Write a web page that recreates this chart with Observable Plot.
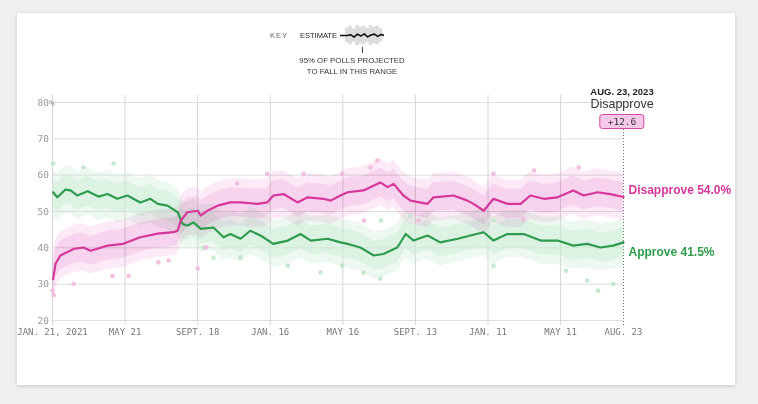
<!DOCTYPE html>
<html>
<head>
<meta charset="utf-8">
<script src="https://cdn.jsdelivr.net/npm/d3@7"></script>
<script src="https://cdn.jsdelivr.net/npm/@observablehq/plot@0.6"></script>
<style>
  html, body { margin: 0; padding: 0; }
  body { width: 758px; height: 404px; background: #efefef; position: relative; overflow: hidden; font-family: "Liberation Sans", Arial, sans-serif; }
  #card { position: absolute; left: 17px; top: 13px; width: 718px; height: 372px; background: #fff; box-shadow: 0 1px 4px rgba(0,0,0,0.18); }
  #chart { position: absolute; left: 0; top: 0; }
  #key { position: absolute; left: 0; top: 0; width: 758px; height: 90px; }
  .k { position: absolute; color: #444; font-size: 7.5px; white-space: nowrap; }
  #ann { position: absolute; left: 622px; top: 86px; transform: translateX(-50%); text-align: center; }
  #ann .d { font-weight: bold; font-size: 9.5px; color: #222; line-height: 11px; }
  #ann .l { font-size: 12.5px; color: #333; line-height: 14px; }
  #ann .b { display: inline-block; margin-top: 2px; padding: 0 7px; height: 13px; line-height: 13px; border: 1px solid #d64aa3; border-radius: 3px; background: #f6c9ea; font-family: "DejaVu Sans Mono", monospace; font-size: 9.5px; color: #333; }
</style>
</head>
<body>
<div id="card"></div>
<div id="chart"></div>
<div id="key">
  <div class="k" style="left:270px; top:31px; letter-spacing:1px; color:#666;">KEY</div>
  <div class="k" style="left:300px; top:31px; color:#222;">ESTIMATE</div>
  <div id="keyplot" style="position:absolute; left:340px; top:24px;"></div>
  <div style="position:absolute; left:362px; top:47px; width:1px; height:6px; background:#444;"></div>
  <div class="k" style="left:352px; top:55px; transform:translateX(-50%); text-align:center; line-height:11px; color:#333; font-size:7.8px;">95% OF POLLS PROJECTED<br>TO FALL IN THIS RANGE</div>
</div>
<div id="ann">
  <div class="d">AUG. 23, 2023</div>
  <div class="l">Disapprove</div>
  <div class="b">+12.6</div>
</div>
<script>
// ---- data ----
const disDates = ["2021-01-22","2021-01-26","2021-02-03","2021-02-25","2021-03-13","2021-03-25","2021-04-22","2021-05-18","2021-06-15","2021-07-14","2021-08-09","2021-08-16","2021-08-21","2021-09-01","2021-09-18","2021-09-23","2021-10-04","2021-10-21","2021-11-11","2021-11-28","2021-12-26","2022-01-11","2022-01-21","2022-02-07","2022-03-02","2022-03-19","2022-04-14","2022-04-26","2022-05-12","2022-05-24","2022-06-19","2022-07-17","2022-07-29","2022-08-08","2022-08-24","2022-09-05","2022-10-03","2022-10-13","2022-11-15","2022-12-08","2022-12-18","2023-01-04","2023-01-20","2023-02-12","2023-03-06","2023-03-22","2023-04-13","2023-05-06","2023-06-01","2023-06-18","2023-07-11","2023-08-01","2023-08-23"];
const disValues = [31.4,35.6,37.9,39.7,40.1,39.2,40.6,41.1,42.9,43.9,44.3,44.8,47.5,49.8,50.2,48.9,50.2,51.6,52.5,52.5,52.1,52.5,54.4,54.8,52.5,53.9,53.5,53.0,54.4,55.3,55.8,58.0,56.7,57.6,54.4,53.0,52.1,53.9,54.4,53.0,52.1,50.2,53.5,52.1,52.1,54.4,53.5,53.9,55.8,54.4,55.3,54.8,54.0];

const appDates = ["2021-01-22","2021-01-29","2021-02-11","2021-02-20","2021-03-03","2021-03-20","2021-04-07","2021-04-22","2021-05-08","2021-05-25","2021-06-15","2021-07-02","2021-07-14","2021-07-30","2021-08-16","2021-08-24","2021-09-01","2021-09-11","2021-09-23","2021-10-14","2021-10-31","2021-11-11","2021-11-28","2021-12-14","2021-12-31","2022-01-21","2022-02-14","2022-03-07","2022-03-24","2022-04-21","2022-05-12","2022-05-24","2022-06-14","2022-07-06","2022-07-22","2022-08-14","2022-08-28","2022-09-10","2022-10-03","2022-10-24","2022-11-22","2022-12-13","2023-01-04","2023-01-20","2023-02-12","2023-03-11","2023-04-08","2023-05-06","2023-06-01","2023-06-24","2023-07-16","2023-08-06","2023-08-23"];
const appValues = [55.3,53.9,56.0,55.8,54.4,55.6,54.1,54.8,53.5,54.4,52.5,53.5,52.1,51.6,49.8,46.6,46.1,47.0,45.2,45.6,42.9,43.8,42.5,44.7,43.4,41.1,42.0,43.8,42.0,42.5,41.5,41.1,40.1,37.9,38.3,40.1,43.8,42.0,43.4,41.5,42.5,43.4,44.3,42.0,43.8,43.8,42.0,42.0,40.6,41.1,40.1,40.6,41.5];

// scattered polls outside the dense band
const disPollDates = ["2021-01-21","2021-01-23","2021-02-25","2021-04-30","2021-05-27","2021-07-15","2021-08-01","2021-09-18","2021-10-02","2021-11-22","2022-01-11","2022-03-12","2022-05-15","2022-07-01","2022-07-12","2022-06-20","2022-09-18","2023-01-20","2023-03-10","2023-03-28","2023-06-10"];
const disPollValues = [28.2,27.0,30.1,32.3,32.3,36.0,36.5,34.3,40.1,57.7,60.4,60.4,60.4,62.1,64.0,47.5,47.5,60.4,48.0,61.3,62.1];
const appPollDates = ["2021-01-22","2021-03-13","2021-05-02","2021-09-28","2021-10-14","2021-11-28","2022-02-14","2022-04-09","2022-05-15","2022-06-19","2022-07-17","2022-07-18","2022-09-05","2023-01-20","2023-01-20","2023-05-20","2023-06-24","2023-07-12","2023-08-06"];
const appPollValues = [63.2,62.1,63.2,40.1,37.3,37.3,35.1,33.2,35.1,33.2,31.5,47.5,48.9,35.1,47.5,33.7,31.0,28.2,30.1];

const spread = 5.5; // half-width of the 95% poll range

const tickDates = ["2021-01-21","2021-05-21","2021-09-18","2022-01-16","2022-05-16","2022-09-13","2023-01-11","2023-05-11","2023-08-23"];
const tickLabels = ["JAN. 21, 2021","MAY 21","SEPT. 18","JAN. 16","MAY 16","SEPT. 13","JAN. 11","MAY 11","AUG. 23"];
const yTicks = [20,30,40,50,60,70,80];

const keyLine = [0,0,0,0.3,-0.6,0.5,-0.2,0.6,-0.5,0.2,0.5,-0.3,0.4,0];
const keyHi = [0,0,8,10,7,11,9,10,8,11,9,10,7,0];

// ---- build ----
const P = s => new Date(s + "T00:00:00Z");
const dis = disDates.map((d, i) => ({date: P(d), v: disValues[i]}));
const app = appDates.map((d, i) => ({date: P(d), v: appValues[i]}));
const disPolls = disPollDates.map((d, i) => ({date: P(d), v: disPollValues[i]}));
const appPolls = appPollDates.map((d, i) => ({date: P(d), v: appPollValues[i]}));
const ticks = tickDates.map(P);
const gridDates = ticks.slice(0, -1);
const endDate = ticks[ticks.length - 1];
const labelFor = d => { const i = ticks.findIndex(t => +t === +d); return i >= 0 ? tickLabels[i] : ""; };

const pinkBand = "#f7c6e8", greenBand = "#c9ecd3";
const pinkLine = "#d5379b", greenLine = "#2e9c4c";

const chart = Plot.plot({
  width: 758, height: 404,
  marginLeft: 52, marginRight: 135, marginTop: 102, marginBottom: 84,
  style: {background: "transparent", fontFamily: "'DejaVu Sans Mono', monospace", fontSize: "9px", color: "#777", overflow: "visible"},
  x: {type: "utc", domain: [ticks[0], endDate], ticks: ticks, tickFormat: labelFor, tickSize: 0, tickPadding: 8, label: null},
  y: {domain: [20, 80], axis: null},
  marks: [
    Plot.ruleY(yTicks, {stroke: "#ddd", strokeWidth: 1}),
    Plot.ruleX(gridDates, {y1: 18.6, y2: 82, stroke: "#d6d6d6", strokeWidth: 1}),
    Plot.text(yTicks, {x: ticks[0], y: d => d, text: d => d === 80 ? "80%" : String(d), textAnchor: "start", dx: -15, fill: "#999", fontSize: 9.5, fontFamily: "'DejaVu Sans Mono', monospace"}),
    Plot.areaY(app, {x: "date", y1: d => d.v - spread - 1, y2: d => d.v + spread + 1, fill: greenBand, fillOpacity: 0.35}),
    Plot.areaY(app, {x: "date", y1: d => d.v - spread + 1.5, y2: d => d.v + spread - 1.5, fill: greenBand, fillOpacity: 0.45}),
    Plot.areaY(dis, {x: "date", y1: d => d.v - spread - 1, y2: d => d.v + spread + 1, fill: pinkBand, fillOpacity: 0.35, mixBlendMode: "multiply"}),
    Plot.areaY(dis, {x: "date", y1: d => d.v - spread + 1.5, y2: d => d.v + spread - 1.5, fill: pinkBand, fillOpacity: 0.45, mixBlendMode: "multiply"}),
    Plot.dot(appPolls, {x: "date", y: "v", r: 2.3, fill: "#bfe6ca", fillOpacity: 0.9}),
    Plot.dot(disPolls, {x: "date", y: "v", r: 2.3, fill: "#f2b8de", fillOpacity: 0.9}),
    Plot.ruleX([endDate], {y1: 18.6, y2: 73.4, stroke: "#666", strokeWidth: 1, strokeDasharray: "1,2"}),
    Plot.line(app, {x: "date", y: "v", stroke: greenLine, strokeWidth: 2.2}),
    Plot.line(dis, {x: "date", y: "v", stroke: pinkLine, strokeWidth: 2.2}),
    Plot.text([dis[dis.length - 1]], {x: "date", y: "v", text: d => "Disapprove " + d.v.toFixed(1) + "%", textAnchor: "start", dx: 5, dy: -7, fill: pinkLine, fontWeight: "bold", fontSize: 12, fontFamily: "'Liberation Sans', Arial, sans-serif"}),
    Plot.text([app[app.length - 1]], {x: "date", y: "v", text: d => "Approve " + d.v.toFixed(1) + "%", textAnchor: "start", dx: 5, dy: 10, fill: greenLine, fontWeight: "bold", fontSize: 12, fontFamily: "'Liberation Sans', Arial, sans-serif"})
  ]
});
document.getElementById("chart").appendChild(chart);

const keyIdx = keyLine.map((_, i) => i);
const keyPlot = Plot.plot({
  width: 44, height: 22, margin: 0,
  style: {background: "transparent"},
  x: {domain: [0, keyLine.length - 1], axis: null},
  y: {domain: [-12, 12], axis: null},
  marks: [
    Plot.areaY(keyIdx, {x: i => i, y1: i => -keyHi[i], y2: i => keyHi[i], fill: "#dcdcdc", curve: "step"}),
    Plot.line(keyIdx, {x: i => i, y: i => keyLine[i] * 3, stroke: "#111", strokeWidth: 1.6})
  ]
});
document.getElementById("keyplot").appendChild(keyPlot);
</script>
</body>
</html>
